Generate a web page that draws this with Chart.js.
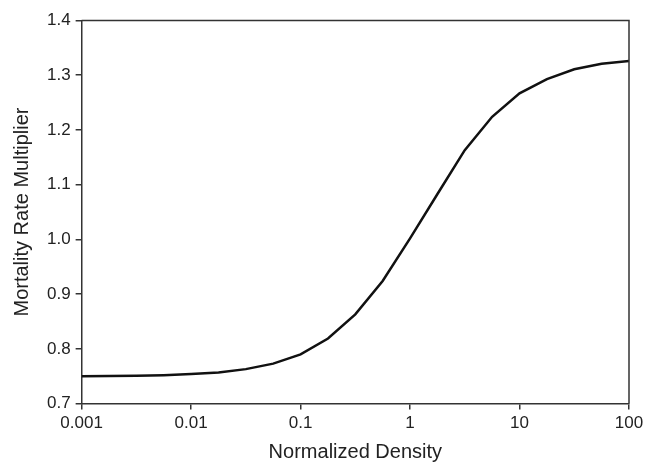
<!DOCTYPE html>
<html>
<head>
<meta charset="utf-8">
<script src="https://cdn.jsdelivr.net/npm/chart.js@4.4.0/dist/chart.umd.min.js"></script>
<style>
  html, body { margin: 0; padding: 0; background: #fff; }
  #wrap { width: 657px; height: 465px; }
</style>
</head>
<body>
<div id="wrap"><canvas id="densityChart" width="657" height="465"></canvas></div>
<script>
// normalized density (4 points per decade) and mortality multiplier
const densities = [0.001, 0.00178, 0.00316, 0.00562, 0.01, 0.0178, 0.0316, 0.0562,
  0.1, 0.178, 0.316, 0.562, 1, 1.78, 3.16, 5.62, 10, 17.8, 31.6, 56.2, 100];
const multipliers = [0.750, 0.7505, 0.751, 0.752, 0.754, 0.757, 0.763, 0.773,
  0.790, 0.819, 0.863, 0.924, 1.002, 1.083, 1.163, 1.224, 1.267, 1.293, 1.311, 1.321, 1.326];
const xTicks = [0.001, 0.01, 0.1, 1, 10, 100];
const xLabels = ['0.001', '0.01', '0.1', '1', '10', '100'];

const points = densities.map((d, i) => ({ x: d, y: multipliers[i] }));

// top + right edges of the plot box
const frame = {
  id: 'frame',
  afterDraw(chart) {
    const a = chart.chartArea, c = chart.ctx;
    c.save();
    c.strokeStyle = '#333';
    c.lineWidth = 1.5;
    c.beginPath();
    c.moveTo(a.left, a.top);
    c.lineTo(a.right, a.top);
    c.lineTo(a.right, a.bottom);
    c.stroke();
    c.restore();
  }
};

const tickFont = { family: 'Liberation Sans, Arial, sans-serif', size: 17 };
const titleFont = { family: 'Liberation Sans, Arial, sans-serif', size: 20 };

new Chart(document.getElementById('densityChart'), {
  type: 'line',
  data: {
    datasets: [{
      data: points,
      borderColor: '#111',
      borderWidth: 2.5,
      pointRadius: 0,
      tension: 0,
      fill: false
    }]
  },
  options: {
    responsive: false,
    animation: false,
    layout: { padding: { top: 20.5, right: 28, left: 0, bottom: 1 } },
    plugins: { legend: { display: false }, tooltip: { enabled: false } },
    scales: {
      x: {
        type: 'logarithmic',
        min: 0.001,
        max: 100,
        afterBuildTicks: (axis) => { axis.ticks = xTicks.map(v => ({ value: v })); },
        ticks: {
          color: '#222',
          font: tickFont,
          padding: 4,
          maxRotation: 0,
          callback: (v) => xLabels[xTicks.indexOf(v)] ?? ''
        },
        grid: { drawOnChartArea: false, drawTicks: true, tickLength: 6, color: '#333', lineWidth: 1.5 },
        border: { display: true, color: '#333', width: 1.5 },
        title: { display: true, text: 'Normalized Density', color: '#222', font: titleFont, padding: { top: 2, bottom: 0 } }
      },
      y: {
        min: 0.7,
        max: 1.4,
        ticks: {
          stepSize: 0.1,
          color: '#222',
          font: tickFont,
          padding: 5,
          callback: (v) => v.toFixed(1)
        },
        grid: { drawOnChartArea: false, drawTicks: true, tickLength: 6, color: '#333', lineWidth: 1.5 },
        border: { display: true, color: '#333', width: 1.5 },
        title: { display: true, text: 'Mortality Rate Multiplier', color: '#222', font: titleFont, padding: { top: 10, bottom: 8 } }
      }
    }
  },
  plugins: [frame]
});
</script>
</body>
</html>
